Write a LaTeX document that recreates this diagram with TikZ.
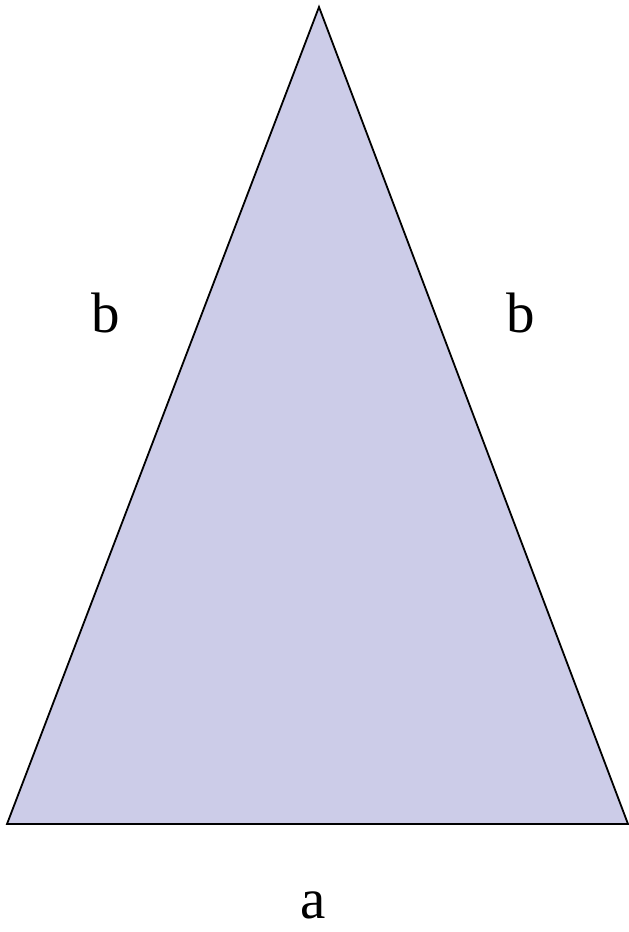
\documentclass[tikz,border=0pt]{standalone}
\usepackage{fontspec}
\setmainfont{Liberation Serif}
\definecolor{trifill}{HTML}{CCCCE8}
\begin{document}
\begin{tikzpicture}[x=1pt,y=-1pt,
  side/.style={anchor=base,inner sep=0pt,font=\fontsize{57}{60}\selectfont}]
\useasboundingbox (0,0) rectangle (629,932);

% Vertices
\coordinate (top) at (319,7);
\coordinate (left) at (7,824);
\coordinate (right) at (628,824);

% Triangle
\filldraw[fill=trifill, draw=black, line width=1.8pt, line join=miter] (top) -- (left) -- (right) -- cycle;

% Side labels
\node[side] (sideL) at (106,332) {b};
\node[side] (sideR) at (521,332) {b};
\node[side] (base) at (313,918) {a};

\end{tikzpicture}
\end{document}
